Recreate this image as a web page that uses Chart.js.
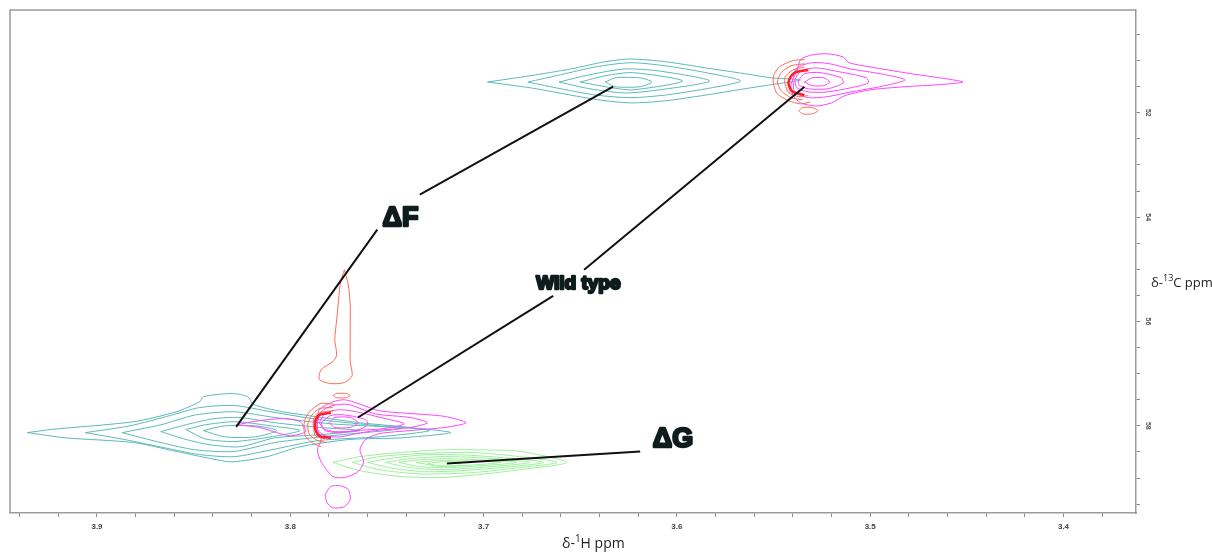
<!DOCTYPE html>
<html>
<head>
<meta charset="utf-8">
<script src="https://cdn.jsdelivr.net/npm/chart.js@4.4.1/dist/chart.umd.min.js"></script>
<style>
html,body{margin:0;padding:0;background:#fff;}
#wrap{width:1212px;height:554px;position:relative;}
</style>
</head>
<body>
<div id="wrap"><canvas id="c" width="1212" height="554"></canvas></div>
<script>
// ---- Axis ticks (ppm) ----
const X_TICKS = [3.94,3.92,3.90,3.88,3.86,3.84,3.82,3.80,3.78,3.76,3.74,3.72,3.70,3.68,3.66,3.64,3.62,3.60,3.58,3.56,3.54,3.52,3.50,3.48,3.46,3.44,3.42,3.40,3.38];
const X_LABELS = [3.9,3.8,3.7,3.6,3.5,3.4];
const Y_TICKS = [50.5,51,51.5,52,52.5,53,53.5,54,54.5,55,55.5,56,56.5,57,57.5,58,58.5,59,59.5];
const Y_LABELS = [52,54,56,58];

// ---- Contours: [1H ppm, 13C ppm] ----
const tealTop = [
 [[3.698,51.41],[3.676,51.29],[3.655,51.16],[3.637,51.02],[3.624,50.97],[3.606,51.02],[3.585,51.14],[3.565,51.25],[3.551,51.33],[3.536,51.37],[3.551,51.46],[3.565,51.54],[3.585,51.66],[3.606,51.77],[3.624,51.81],[3.641,51.75],[3.658,51.64],[3.676,51.52],[3.698,51.41]],
 [[3.677,51.41],[3.660,51.27],[3.642,51.12],[3.624,51.04],[3.606,51.10],[3.585,51.23],[3.567,51.39],[3.585,51.54],[3.606,51.66],[3.624,51.71],[3.642,51.66],[3.660,51.54],[3.677,51.41]],
 [[3.661,51.41],[3.645,51.27],[3.627,51.16],[3.609,51.20],[3.583,51.39],[3.609,51.56],[3.627,51.62],[3.645,51.54],[3.661,51.41]],
 [[3.650,51.41],[3.637,51.29],[3.623,51.23],[3.597,51.39],[3.623,51.56],[3.637,51.50],[3.650,51.41]],
 [[3.637,51.41],[3.632,51.33],[3.619,51.33],[3.613,51.41],[3.619,51.50],[3.632,51.50],[3.637,51.41]]
];
const magentaTop = [
 [[3.538,51.21],[3.536,50.98],[3.530,50.89],[3.522,50.87],[3.514,50.93],[3.511,51.04],[3.497,51.14],[3.479,51.25],[3.464,51.33],[3.452,51.41],[3.464,51.46],[3.482,51.50],[3.500,51.56],[3.513,51.67],[3.520,51.81],[3.528,51.87],[3.536,51.81],[3.540,51.66],[3.541,51.46],[3.538,51.21]],
 [[3.540,51.37],[3.538,51.14],[3.530,51.04],[3.521,51.06],[3.510,51.16],[3.495,51.25],[3.482,51.37],[3.495,51.50],[3.510,51.60],[3.522,51.69],[3.532,51.71],[3.539,51.60],[3.540,51.37]],
 [[3.539,51.37],[3.536,51.20],[3.528,51.14],[3.518,51.20],[3.502,51.33],[3.501,51.43],[3.510,51.52],[3.522,51.60],[3.532,51.60],[3.538,51.52],[3.539,51.37]],
 [[3.537,51.37],[3.534,51.25],[3.526,51.23],[3.515,51.33],[3.514,51.43],[3.522,51.54],[3.532,51.54],[3.537,51.46],[3.537,51.37]],
 [[3.534,51.41],[3.530,51.33],[3.524,51.33],[3.521,51.41],[3.524,51.48],[3.530,51.48],[3.534,51.41]]
];
const redTop = [
 [[3.534,50.98],[3.540,51.00],[3.547,51.12],[3.550,51.29],[3.550,51.46],[3.548,51.64],[3.542,51.77],[3.536,51.83],[3.531,51.79]],
 [[3.534,51.06],[3.541,51.10],[3.546,51.23],[3.548,51.41],[3.546,51.58],[3.541,51.71],[3.535,51.75]],
 [[3.534,51.12],[3.540,51.18],[3.544,51.31],[3.544,51.46],[3.542,51.62],[3.537,51.69],[3.532,51.67]],
 [[3.537,51.96],[3.535,51.90],[3.530,51.90],[3.527,51.96],[3.530,52.02],[3.535,52.02],[3.537,51.96]]
];
const redTopCore = [[3.532,51.18],[3.539,51.23],[3.542,51.37],[3.542,51.48],[3.540,51.60],[3.534,51.66]];

const tealBottom = [
 [[3.936,58.13],[3.924,58.07],[3.881,57.92],[3.859,57.73],[3.847,57.54],[3.845,57.44],[3.830,57.38],[3.822,57.44],[3.819,57.59],[3.804,57.73],[3.793,57.79],[3.764,57.94],[3.738,58.03],[3.717,58.13],[3.743,58.23],[3.769,58.26],[3.795,58.40],[3.812,58.59],[3.830,58.69],[3.838,58.65],[3.859,58.49],[3.881,58.32],[3.916,58.23],[3.936,58.13]],
 [[3.906,58.13],[3.883,58.00],[3.862,57.80],[3.847,57.65],[3.829,57.61],[3.810,57.73],[3.785,57.88],[3.754,58.00],[3.728,58.09],[3.754,58.21],[3.785,58.28],[3.810,58.46],[3.829,58.59],[3.847,58.55],[3.865,58.42],[3.886,58.26],[3.906,58.13]],
 [[3.887,58.13],[3.867,57.98],[3.849,57.79],[3.829,57.73],[3.808,57.84],[3.779,57.96],[3.743,58.05],[3.779,58.19],[3.808,58.32],[3.829,58.49],[3.849,58.46],[3.867,58.32],[3.887,58.13]],
 [[3.867,58.11],[3.852,57.96],[3.839,57.86],[3.826,57.84],[3.808,57.94],[3.785,58.03],[3.764,58.09],[3.785,58.17],[3.808,58.23],[3.826,58.40],[3.842,58.36],[3.854,58.26],[3.867,58.11]],
 [[3.854,58.07],[3.844,57.98],[3.829,57.92],[3.810,58.00],[3.795,58.09],[3.810,58.21],[3.829,58.30],[3.844,58.25],[3.854,58.07]],
 [[3.845,58.09],[3.834,58.00],[3.818,58.00],[3.807,58.09],[3.818,58.21],[3.834,58.21],[3.845,58.09]]
];
const magentaBottom = [
 [[3.786,57.88],[3.785,57.69],[3.778,57.54],[3.772,57.50],[3.765,57.57],[3.754,57.71],[3.735,57.77],[3.720,57.82],[3.709,57.94],[3.720,58.03],[3.738,58.09],[3.754,58.15],[3.761,58.26],[3.764,58.46],[3.762,58.69],[3.765,58.88],[3.772,58.99],[3.778,58.97],[3.784,58.69],[3.786,58.46],[3.784,58.26],[3.786,58.07],[3.786,57.88]],
 [[3.786,57.94],[3.784,57.73],[3.778,57.61],[3.770,57.59],[3.756,57.77],[3.738,57.84],[3.729,57.94],[3.738,58.03],[3.756,58.09],[3.766,58.15],[3.774,58.21],[3.782,58.19],[3.786,58.07],[3.786,57.94]],
 [[3.785,57.94],[3.782,57.77],[3.775,57.69],[3.766,57.73],[3.751,57.86],[3.741,57.96],[3.751,58.05],[3.766,58.09],[3.775,58.13],[3.782,58.09],[3.785,57.94]],
 [[3.784,57.94],[3.779,57.80],[3.772,57.79],[3.761,57.88],[3.760,57.98],[3.766,58.09],[3.777,58.11],[3.783,58.05],[3.784,57.94]],
 [[3.780,57.94],[3.777,57.84],[3.769,57.84],[3.765,57.94],[3.769,58.03],[3.777,58.03],[3.780,57.94]],
 [[3.828,57.98],[3.816,57.90],[3.803,57.86],[3.795,57.92],[3.792,58.11],[3.800,58.19],[3.807,58.13],[3.816,58.03],[3.828,57.98]],
 [[3.782,59.32],[3.779,59.16],[3.774,59.15],[3.770,59.22],[3.769,59.41],[3.772,59.55],[3.778,59.57],[3.781,59.47],[3.782,59.32]]
];
const redBottom = [
 [[3.777,57.59],[3.784,57.57],[3.789,57.69],[3.792,57.84],[3.793,58.02],[3.792,58.21],[3.788,58.34],[3.784,58.40]],
 [[3.778,57.65],[3.785,57.67],[3.789,57.80],[3.791,57.98],[3.790,58.17],[3.786,58.28],[3.781,58.32]],
 [[3.778,57.71],[3.785,57.75],[3.788,57.88],[3.788,58.03],[3.787,58.19],[3.782,58.25]],
 [[3.778,57.42],[3.776,57.38],[3.771,57.38],[3.769,57.42],[3.771,57.46],[3.776,57.46],[3.778,57.42]],
 [[3.772,55.01],[3.774,55.24],[3.775,55.58],[3.776,55.97],[3.777,56.35],[3.776,56.64],[3.778,56.77],[3.784,56.92],[3.785,57.11],[3.779,57.19],[3.772,57.17],[3.768,57.04],[3.769,56.77],[3.769,56.44],[3.769,56.06],[3.769,55.68],[3.770,55.30],[3.772,55.01]]
];
const redBottomCore = [[3.779,57.75],[3.785,57.79],[3.787,57.90],[3.787,58.07],[3.785,58.19],[3.779,58.23]];

const greenG = [
 [[3.778,58.70],[3.764,58.59],[3.743,58.51],[3.722,58.46],[3.702,58.46],[3.681,58.49],[3.657,58.70],[3.681,58.84],[3.702,58.93],[3.722,58.99],[3.743,58.97],[3.764,58.86],[3.778,58.70]],
 [[3.768,58.70],[3.754,58.59],[3.733,58.53],[3.707,58.51],[3.686,58.57],[3.662,58.70],[3.686,58.82],[3.707,58.90],[3.733,58.92],[3.754,58.84],[3.768,58.70]],
 [[3.760,58.70],[3.746,58.61],[3.728,58.55],[3.704,58.57],[3.669,58.70],[3.704,58.84],[3.728,58.88],[3.746,58.82],[3.760,58.70]],
 [[3.751,58.70],[3.738,58.63],[3.722,58.59],[3.702,58.61],[3.676,58.70],[3.702,58.80],[3.722,58.84],[3.738,58.80],[3.751,58.70]],
 [[3.744,58.70],[3.733,58.65],[3.717,58.63],[3.683,58.70],[3.717,58.80],[3.733,58.78],[3.744,58.70]],
 [[3.735,58.70],[3.725,58.67],[3.710,58.67],[3.691,58.70],[3.710,58.76],[3.725,58.76],[3.735,58.70]],
 [[3.729,58.72],[3.722,58.69],[3.715,58.69],[3.712,58.72],[3.715,58.78],[3.722,58.78],[3.729,58.72]]
];

// ---- Annotation leader lines and labels ----
const leaderLines = [
 [[3.633,51.50],[3.733,53.57]],
 [[3.755,54.24],[3.828,58.02]],
 [[3.648,55.01],[3.534,51.50]],
 [[3.664,55.51],[3.765,57.84]],
 [[3.619,58.49],[3.719,58.72]]
];
const labelTexts = ['\u0394F','Wild type','\u0394G'];
const labelAnchors = [[3.743,54.03],[3.651,55.28],[3.602,58.26]];

const toPts = arr => arr.map(p => ({x:p[0], y:p[1]}));
const datasets = [];
function addSet(list, color, width){
  list.forEach(c => datasets.push({data:toPts(c), borderColor:color, borderWidth:width, showLine:true, pointRadius:0, fill:false, tension:0.25}));
}
// draw order: first dataset is drawn on top
leaderLines.forEach(l => datasets.push({data:toPts(l), borderColor:'#111', borderWidth:2, showLine:true, pointRadius:0, fill:false, tension:0}));
addSet([redTopCore, redBottomCore], '#ff1f2a', 2.6);
addSet(redTop, '#ff6a55', 1);
addSet(redBottom, '#ff6a55', 1);
addSet(magentaTop, '#ff44ff', 1);
addSet(magentaBottom, '#ff44ff', 1);
addSet(greenG, '#9cf09c', 1);
addSet(tealTop, '#5cb9b9', 1);
addSet(tealBottom, '#5cb9b9', 1);

const annot = {
  id:'annot',
  afterDatasetsDraw(chart){
    const ctx = chart.ctx, xs = chart.scales.x, ys = chart.scales.y, a = chart.chartArea;
    ctx.save();
    ctx.strokeStyle = '#9a9a9a'; ctx.lineWidth = 1.5;
    ctx.beginPath(); ctx.moveTo(a.left, a.bottom); ctx.lineTo(a.left, a.top); ctx.lineTo(a.right, a.top); ctx.stroke();
    ctx.textAlign = 'center'; ctx.textBaseline = 'middle';
    labelTexts.forEach((t,i) => {
      const px = xs.getPixelForValue(labelAnchors[i][0]), py = ys.getPixelForValue(labelAnchors[i][1]);
      ctx.font = (i === 1 ? 'bold 19px' : 'bold 27px') + ' "Liberation Sans", Arial, sans-serif';
      ctx.lineWidth = 2.4; ctx.strokeStyle = '#0e1c1c'; ctx.fillStyle = '#0e1c1c';
      ctx.lineJoin = 'round';
      ctx.strokeText(t, px, py); ctx.fillText(t, px, py);
    });
    ctx.restore();
  },
  afterDraw(chart){
    const ctx = chart.ctx, ys = chart.scales.y;
    ctx.save();
    ctx.fillStyle = '#555'; ctx.font = 'bold 7px "Liberation Sans", Arial, sans-serif';
    ctx.textAlign = 'center'; ctx.textBaseline = 'middle';
    Y_LABELS.forEach(v => {
      const py = ys.getPixelForValue(v);
      ctx.save(); ctx.translate(1148, py); ctx.rotate(Math.PI/2); ctx.fillText(String(v), 0, 0); ctx.restore();
    });
    function title(x, y, size, parts){
      let cx = x;
      parts.forEach(([t, sup]) => {
        ctx.font = (sup ? Math.round(size*0.68) : size) + 'px "Open Sans", "Noto Sans", sans-serif';
        ctx.fillStyle = '#222'; ctx.textAlign = 'left'; ctx.textBaseline = 'alphabetic';
        ctx.fillText(t, cx, sup ? y - Math.round(size*0.45) : y);
        cx += ctx.measureText(t).width;
      });
    }
    title(562, 548, 14, [['\u03B4-',0],['1',1],['H ppm',0]]);
    title(1151, 287, 13, [['\u03B4-',0],['13',1],['C ppm',0]]);
    ctx.restore();
  }
};

new Chart(document.getElementById('c'), {
  type:'scatter',
  data:{datasets},
  options:{
    responsive:false, animation:false, events:[],
    layout:{padding:{left:10, top:10, right:0, bottom:0}},
    plugins:{legend:{display:false}, tooltip:{enabled:false}},
    scales:{
      x:{
        type:'linear', reverse:true, min:3.3625, max:3.945, position:'bottom',
        afterBuildTicks: s => { s.ticks = X_TICKS.map(v => ({value:v})); },
        afterFit: s => { s.height = 41; },
        grid:{drawOnChartArea:false, drawTicks:true, tickLength:4, color:'#888'},
        border:{display:true, color:'#9a9a9a', width:1.5},
        ticks:{autoSkip:false, maxRotation:0, minRotation:0, padding:5, color:'#444',
          font:{family:'"Liberation Sans", Arial, sans-serif', size:8, weight:'bold'},
          callback: v => X_LABELS.some(l => Math.abs(l - v) < 1e-6) ? v.toFixed(1) : ''}
      },
      y:{
        type:'linear', reverse:true, min:50.03, max:59.67, position:'right',
        afterBuildTicks: s => { s.ticks = Y_TICKS.map(v => ({value:v})); },
        afterFit: s => { s.width = 76; },
        grid:{drawOnChartArea:false, drawTicks:true, tickLength:4, color:'#888'},
        border:{display:true, color:'#9a9a9a', width:1.5},
        ticks:{display:false}
      }
    }
  },
  plugins:[annot]
});
</script>
</body>
</html>
